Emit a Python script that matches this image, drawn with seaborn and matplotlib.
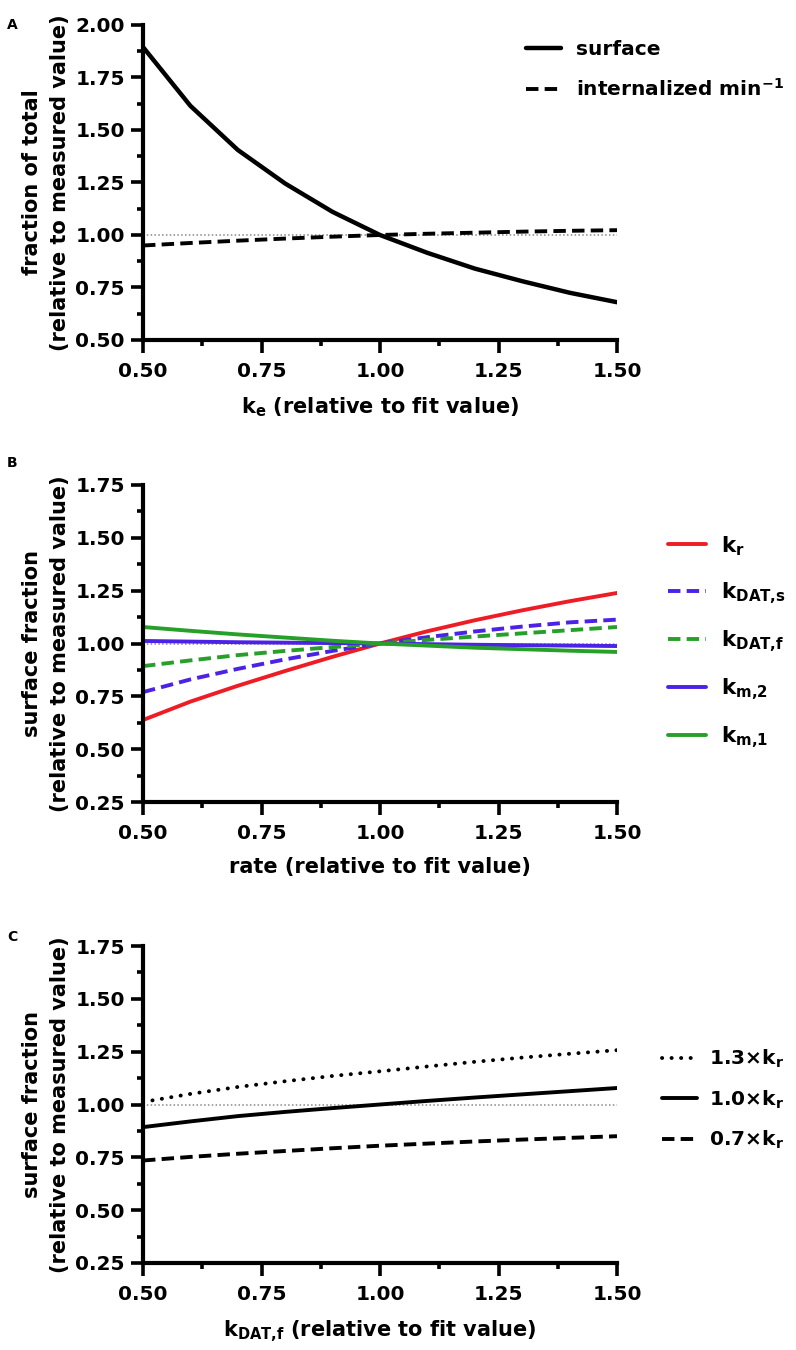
import matplotlib
matplotlib.use("Agg")
import matplotlib.pyplot as plt
import seaborn as sns
from matplotlib.ticker import MultipleLocator, AutoMinorLocator, FormatStrFormatter

# x values (relative to fit value)
x_rel = [0.5, 0.6, 0.7, 0.8, 0.9, 1.0, 1.1, 1.2, 1.3, 1.4, 1.5]

# Panel A: varying k_e
surface = [1.895, 1.615, 1.405, 1.245, 1.11, 1.0, 0.915, 0.84, 0.78, 0.725, 0.68]
internalized = [0.950, 0.962, 0.973, 0.983, 0.992, 1.0, 1.006, 1.011, 1.016, 1.020, 1.023]

# Panel B: varying each rate
k_r = [0.638, 0.725, 0.80, 0.87, 0.937, 1.0, 1.058, 1.11, 1.157, 1.20, 1.239]
k_dat_s = [0.77, 0.83, 0.88, 0.925, 0.965, 1.0, 1.03, 1.057, 1.08, 1.10, 1.113]
k_dat_f = [0.893, 0.92, 0.945, 0.965, 0.983, 1.0, 1.017, 1.033, 1.048, 1.063, 1.078]
k_m2 = [1.012, 1.009, 1.006, 1.004, 1.002, 1.0, 0.997, 0.994, 0.992, 0.990, 0.988]
k_m1 = [1.078, 1.06, 1.043, 1.028, 1.013, 1.0, 0.99, 0.98, 0.973, 0.966, 0.96]

# Panel C: varying k_DAT,f at three k_r levels
kr_13 = [1.012, 1.05, 1.083, 1.11, 1.135, 1.157, 1.18, 1.202, 1.222, 1.24, 1.257]
kr_10 = [0.893, 0.92, 0.945, 0.965, 0.983, 1.0, 1.017, 1.033, 1.048, 1.063, 1.078]
kr_07 = [0.735, 0.752, 0.767, 0.78, 0.793, 0.805, 0.815, 0.825, 0.834, 0.842, 0.85]

baseline = 1.0

sns.set_theme(style="ticks")
plt.rcParams["font.family"] = ["DejaVu Sans"]
plt.rcParams["font.weight"] = "bold"
plt.rcParams["axes.labelweight"] = "bold"
plt.rcParams["text.color"] = "black"
plt.rcParams["axes.labelcolor"] = "black"
plt.rcParams["mathtext.fontset"] = "dejavusans"

RED = "#ee1c25"
BLUE = "#4b22e6"
GREEN = "#27a02a"
DASH = (0, (3.2, 1.6))
DOT = (0, (0.05, 2.4))
LW = 2.8

fig = plt.figure(figsize=(7.96, 13.5), dpi=100)
left, width = 143 / 796, 474 / 796
axA = fig.add_axes([left, 1 - 340 / 1350, width, 315 / 1350])
axB = fig.add_axes([left, 1 - 802 / 1350, width, 317 / 1350])
axC = fig.add_axes([left, 1 - 1263 / 1350, width, 317 / 1350])


def style_axes(ax, ylo, yhi):
    ax.set_xlim(0.5, 1.5)
    ax.set_ylim(ylo, yhi)
    ax.xaxis.set_major_locator(MultipleLocator(0.25))
    ax.yaxis.set_major_locator(MultipleLocator(0.25))
    ax.xaxis.set_minor_locator(AutoMinorLocator(2))
    ax.yaxis.set_minor_locator(AutoMinorLocator(2))
    ax.xaxis.set_major_formatter(FormatStrFormatter("%.2f"))
    ax.yaxis.set_major_formatter(FormatStrFormatter("%.2f"))
    sns.despine(ax=ax)
    for s in ["left", "bottom"]:
        ax.spines[s].set_linewidth(3)
        ax.spines[s].set_color("black")
    ax.tick_params(which="major", length=9, width=2.6, labelsize=14.5, pad=4,
                   color="black", labelcolor="black")
    ax.tick_params(axis="x", which="major", pad=7)
    ax.tick_params(which="minor", length=4.5, width=2.6, color="black")
    ax.yaxis.set_label_coords(-0.155, 0.5)
    ax.axhline(baseline, color="#888888", lw=1.1, ls=(0, (1, 1.5)), zorder=1)


legend_kw = dict(bbox_transform=fig.transFigure, frameon=False, loc="upper left",
                 handlelength=1.75, borderpad=0, borderaxespad=0)

# Panel A
sns.lineplot(x=x_rel, y=surface, ax=axA, color="black", lw=3.2, label="surface")
sns.lineplot(x=x_rel, y=internalized, ax=axA, color="black", lw=LW,
             linestyle=DASH, label=r"internalized min$^{\mathbf{-1}}$")
style_axes(axA, 0.5, 2.0)
axA.set_ylabel("fraction of total\n(relative to measured value)", fontsize=15,
               linespacing=1.45)
axA.set_xlabel(r"$\mathbf{k_e}$ (relative to fit value)", fontsize=15, labelpad=10)
axA.legend(bbox_to_anchor=(526 / 796, 1 - 40 / 1350), fontsize=14.5,
           labelspacing=0.95, handletextpad=0.75, **legend_kw)

# Panel B
sns.lineplot(x=x_rel, y=k_r, ax=axB, color=RED, lw=LW, label=r"$\mathbf{k_r}$")
sns.lineplot(x=x_rel, y=k_dat_s, ax=axB, color=BLUE, lw=LW, linestyle=DASH,
             label=r"$\mathbf{k_{DAT{,}s}}$")
sns.lineplot(x=x_rel, y=k_dat_f, ax=axB, color=GREEN, lw=LW, linestyle=DASH,
             label=r"$\mathbf{k_{DAT{,}f}}$")
sns.lineplot(x=x_rel, y=k_m2, ax=axB, color=BLUE, lw=LW, label=r"$\mathbf{k_{m{,}2}}$")
sns.lineplot(x=x_rel, y=k_m1, ax=axB, color=GREEN, lw=LW, label=r"$\mathbf{k_{m{,}1}}$")
style_axes(axB, 0.25, 1.75)
axB.set_ylabel("surface fraction\n(relative to measured value)", fontsize=15,
               linespacing=1.45)
axB.set_xlabel("rate (relative to fit value)", fontsize=15, labelpad=10)
axB.legend(bbox_to_anchor=(668 / 796, 1 - 534 / 1350), fontsize=15.5,
           labelspacing=1.05, handletextpad=0.7, **legend_kw)

# Panel C
sns.lineplot(x=x_rel, y=kr_13, ax=axC, color="black", lw=LW, linestyle=DOT,
             dash_capstyle="round", label=r"1.3×$\mathbf{k_r}$")
sns.lineplot(x=x_rel, y=kr_10, ax=axC, color="black", lw=LW, label=r"1.0×$\mathbf{k_r}$")
sns.lineplot(x=x_rel, y=kr_07, ax=axC, color="black", lw=LW, linestyle=DASH,
             label=r"0.7×$\mathbf{k_r}$")
style_axes(axC, 0.25, 1.75)
axC.set_ylabel("surface fraction\n(relative to measured value)", fontsize=15,
               linespacing=1.45)
axC.set_xlabel(r"$\mathbf{k_{DAT{,}f}}$ (relative to fit value)", fontsize=15, labelpad=10)
axC.legend(bbox_to_anchor=(662 / 796, 1 - 1048 / 1350), fontsize=14.5,
           labelspacing=0.9, handletextpad=0.6, **legend_kw)

# panel letters
for letter, ypx in [("A", 25), ("B", 463), ("C", 937)]:
    fig.text(12 / 796, 1 - ypx / 1350, letter, fontsize=10, fontweight="bold",
             ha="center", va="center")

fig.savefig("out.png", dpi=100)
